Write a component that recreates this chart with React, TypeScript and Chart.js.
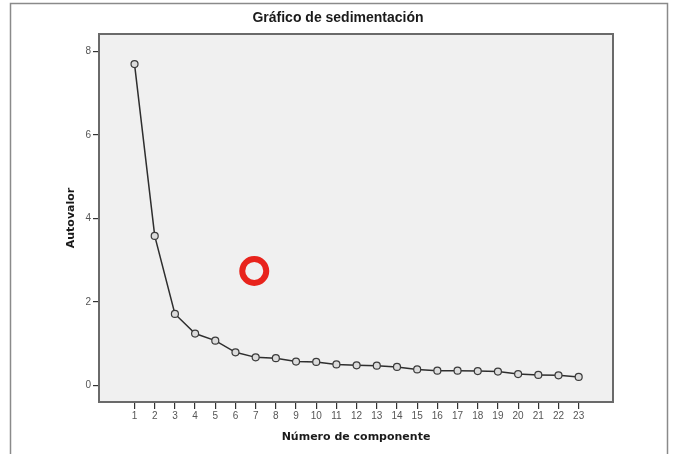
import React, { useEffect, useRef } from "react";
import { Chart, registerables } from "chart.js";

Chart.register(...registerables);

const TITLE = "Gráfico de sedimentación";
const X_TITLE = "Número de componente";
const Y_TITLE = "Autovalor";
const components = [1, 2, 3, 4, 5, 6, 7, 8, 9, 10, 11, 12, 13, 14, 15, 16, 17, 18, 19, 20, 21, 22, 23];
const eigenvalues = [7.7, 3.58, 1.71, 1.24, 1.07, 0.79, 0.67, 0.65, 0.57, 0.56, 0.5, 0.48, 0.47, 0.44, 0.38, 0.35, 0.35, 0.34, 0.33, 0.27, 0.25, 0.24, 0.2];
const yTicks = [0, 2, 4, 6, 8];
const markerX = [6.93];
const markerY = [2.74];

const W = 675;
const H = 454;

const framePlugin = {
  id: "framePlugin",
  beforeDraw(chart: any) {
    const { ctx, chartArea } = chart;
    ctx.save();
    ctx.fillStyle = "#ffffff";
    ctx.fillRect(0, 0, W, H);
    ctx.strokeStyle = "#8a8a8a";
    ctx.lineWidth = 1.5;
    ctx.strokeRect(10.5, 3.5, 657, 520);
    ctx.fillStyle = "#f0f0f0";
    ctx.fillRect(chartArea.left, chartArea.top, chartArea.right - chartArea.left, chartArea.bottom - chartArea.top);
    ctx.fillStyle = "#1a1a1a";
    ctx.font = "bold 14px 'Liberation Sans', Arial, sans-serif";
    ctx.textAlign = "center";
    ctx.textBaseline = "middle";
    ctx.fillText(TITLE, 338, 18);
    ctx.restore();
  },
  afterDatasetsDraw(chart: any) {
    const { ctx, chartArea } = chart;
    ctx.save();
    ctx.strokeStyle = "#6a6a6a";
    ctx.lineWidth = 2;
    ctx.strokeRect(chartArea.left, chartArea.top, chartArea.right - chartArea.left, chartArea.bottom - chartArea.top);
    ctx.restore();
  },
};

export default function App() {
  const ref = useRef<HTMLCanvasElement | null>(null);

  useEffect(() => {
    if (!ref.current) return;
    const chart = new Chart(ref.current, {
      type: "scatter",
      data: {
        datasets: [
          {
            data: components.map((c, i) => ({ x: c, y: eigenvalues[i] })),
            showLine: true,
            borderColor: "#2e2e2e",
            borderWidth: 1.5,
            pointRadius: 3.5,
            pointBorderWidth: 1.2,
            pointBorderColor: "#3a3a3a",
            pointBackgroundColor: "#dcdcdc",
            tension: 0,
          },
          {
            data: markerX.map((x, i) => ({ x, y: markerY[i] })),
            showLine: false,
            pointRadius: 12,
            pointBorderWidth: 6,
            pointBorderColor: "#e8231c",
            pointBackgroundColor: "rgba(0,0,0,0)",
          },
        ],
      },
      options: {
        responsive: false,
        animation: false,
        devicePixelRatio: 1,
        layout: { padding: { left: 0, top: 34, right: 62, bottom: 0 } },
        plugins: {
          legend: { display: false },
          title: { display: false },
          tooltip: { enabled: false },
        },
        scales: {
          x: {
            type: "linear",
            min: -0.76,
            max: 24.7,
            afterFit: (s: any) => {
              s.height = 52;
            },
            afterBuildTicks: (s: any) => {
              s.ticks = components.map((v) => ({ value: v }));
            },
            border: { display: false },
            grid: { drawOnChartArea: false, drawTicks: true, tickLength: 7, color: "#333", lineWidth: 1.2 },
            ticks: {
              autoSkip: false,
              maxRotation: 0,
              padding: 1,
              color: "#555",
              font: { family: "'Liberation Sans', Arial, sans-serif", size: 10 },
              callback: (v: any) => String(v),
            },
            title: {
              display: true,
              text: X_TITLE,
              color: "#1a1a1a",
              font: { family: "'DejaVu Sans', sans-serif", size: 11, weight: "bold" },
              padding: { top: 0, bottom: 10 },
            },
          },
          y: {
            type: "linear",
            min: -0.4,
            max: 8.42,
            afterFit: (s: any) => {
              s.width = 99;
            },
            afterBuildTicks: (s: any) => {
              s.ticks = yTicks.map((v) => ({ value: v }));
            },
            border: { display: false },
            grid: { drawOnChartArea: false, drawTicks: true, tickLength: 6, color: "#333", lineWidth: 1.2 },
            ticks: {
              padding: 2,
              color: "#555",
              font: { family: "'Liberation Sans', Arial, sans-serif", size: 10 },
              callback: (v: any) => String(v),
            },
            title: {
              display: true,
              text: Y_TITLE,
              color: "#1a1a1a",
              font: { family: "'DejaVu Sans', sans-serif", size: 11, weight: "bold" },
              padding: { top: 65, bottom: 0 },
            },
          },
        },
      },
      plugins: [framePlugin],
    });
    return () => chart.destroy();
  }, []);

  return (
    <div style={{ position: "absolute", left: 0, top: 0, width: W, height: H }}>
      <canvas ref={ref} width={W} height={H} style={{ width: W, height: H, display: "block" }} />
    </div>
  );
}
